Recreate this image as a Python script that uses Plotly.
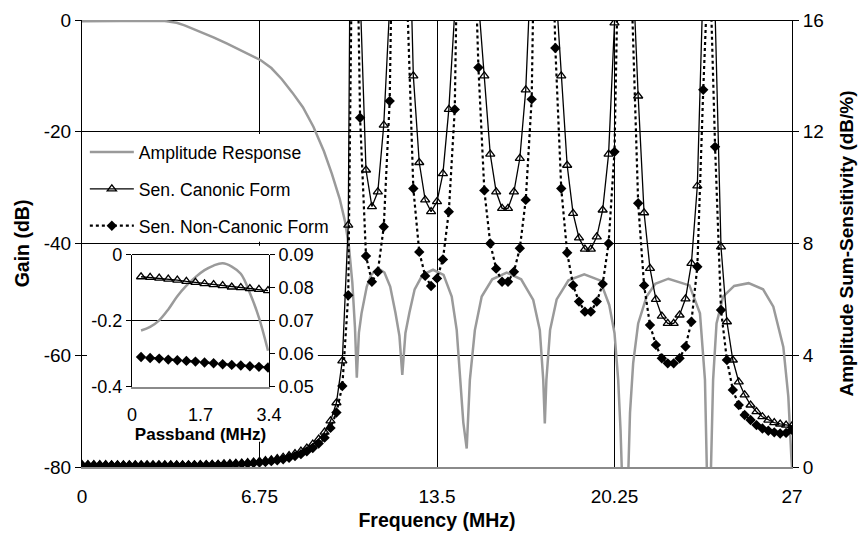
import plotly.graph_objects as go

# Sampling grid of the sensitivity analysis (MHz)
freq_mhz = [
    0.0, 0.225, 0.45, 0.675, 0.9, 1.125, 1.35, 1.575, 1.8, 2.025,
    2.25, 2.475, 2.7, 2.925, 3.15, 3.375, 3.6, 3.825, 4.05, 4.275,
    4.5, 4.725, 4.95, 5.175, 5.4, 5.625, 5.85, 6.075, 6.3, 6.525,
    6.75, 6.975, 7.2, 7.425, 7.65, 7.875, 8.1, 8.325, 8.55, 8.775,
    9.0, 9.225, 9.45, 9.675, 9.9, 10.125, 10.35, 10.575, 10.8, 11.025,
    11.25, 11.475, 11.7, 11.925, 12.15, 12.375, 12.6, 12.825, 13.05, 13.275,
    13.5, 13.725, 13.95, 14.175, 14.4, 14.625, 14.85, 15.075, 15.3, 15.525,
    15.75, 15.975, 16.2, 16.425, 16.65, 16.875, 17.1, 17.325, 17.55, 17.775,
    18.0, 18.225, 18.45, 18.675, 18.9, 19.125, 19.35, 19.575, 19.8, 20.025,
    20.25, 20.475, 20.7, 20.925, 21.15, 21.375, 21.6, 21.825, 22.05, 22.275,
    22.5, 22.725, 22.95, 23.175, 23.4, 23.625, 23.85, 24.075, 24.3, 24.525,
    24.75, 24.975, 25.2, 25.425, 25.65, 25.875, 26.1, 26.325, 26.55, 26.775,
    27.0,
]

# Amplitude sum-sensitivity (dB/%), canonic form
sens_canonic = [
    0.0836, 0.0834, 0.0832, 0.0830, 0.0827, 0.0824, 0.0820, 0.0817, 0.0813, 0.0810,
    0.0807, 0.0803, 0.0801, 0.0798, 0.0796, 0.0792, 0.079, 0.079, 0.080, 0.082,
    0.085, 0.089, 0.095, 0.10, 0.11, 0.12, 0.13, 0.14, 0.16, 0.18,
    0.20, 0.23, 0.26, 0.30, 0.35, 0.41, 0.48, 0.57, 0.68, 0.82,
    1.0, 1.25, 1.65, 2.3, 3.8, 8.66, 40, 17.0, 10.63, 9.32,
    9.85, 12.24, 16.5, 40, 40, 22.3, 14.0, 10.9, 9.56, 9.14,
    9.5, 10.5, 12.8, 16.3, 40, 40, 40, 16.7, 14.0, 11.2,
    9.85, 9.26, 9.26, 9.85, 11.05, 13.5, 18.5, 40, 40, 40,
    17.4, 14.0, 10.8, 9.08, 8.2, 7.8, 7.8, 8.24, 9.2, 11.2,
    15.9, 40, 40, 18.3, 13.28, 9.1, 7.11, 6.0, 5.4, 5.14,
    5.14, 5.44, 6.02, 7.29, 10.06, 17.5, 40, 16.3, 7.88, 5.2,
    3.83, 3.05, 2.58, 2.22, 1.98, 1.8, 1.68, 1.59, 1.54, 1.5,
    1.47,
]

# Amplitude sum-sensitivity (dB/%), non-canonic form
sens_noncanonic = [
    0.0593, 0.0591, 0.0588, 0.0586, 0.0583, 0.0581, 0.0579, 0.0577, 0.0574, 0.0572,
    0.0569, 0.0567, 0.0565, 0.0563, 0.0561, 0.0559, 0.056, 0.057, 0.058, 0.060,
    0.062, 0.065, 0.07, 0.075, 0.08, 0.09, 0.10, 0.11, 0.12, 0.14,
    0.16, 0.18, 0.21, 0.24, 0.28, 0.33, 0.39, 0.46, 0.56, 0.68,
    0.84, 1.05, 1.4, 1.95, 2.9, 6.15, 25.9, 12.5, 7.55, 6.63,
    6.99, 8.6, 13.1, 40, 40, 16.5, 9.97, 7.7, 6.84, 6.48,
    6.75, 7.43, 9.14, 12.8, 22.2, 40, 21.2, 14.3, 9.9, 8.0,
    7.1, 6.63, 6.63, 6.99, 7.83, 9.56, 13.16, 40, 40, 23.5,
    15.0, 9.97, 7.67, 6.51, 5.92, 5.56, 5.56, 5.92, 6.55, 8.0,
    11.28, 22.5, 40, 16.3, 9.44, 6.5, 5.08, 4.37, 3.89, 3.71,
    3.71, 3.89, 4.31, 5.2, 7.17, 13.5, 18.9, 11.46, 5.62, 3.83,
    2.76, 2.22, 1.86, 1.68, 1.5, 1.38, 1.3, 1.24, 1.2, 1.22,
    1.33,
]

# Passband gain (dB) on the first 16 grid points
passband_gain = [
    -0.24, -0.229, -0.218, -0.198, -0.165, -0.125, -0.093, -0.067,
    -0.046, -0.032, -0.025, -0.035, -0.057, -0.115, -0.19, -0.29,
]

# Transition band and stopband of the amplitude response
stop_freq = [
    3.6, 3.9, 4.2, 4.5, 5.0, 5.5, 6.0, 6.4, 6.8, 7.2, 7.6, 8.0, 8.4, 8.8,
    9.2, 9.5, 9.8, 10.0, 10.15, 10.28, 10.38, 10.45,
    10.53, 10.63, 10.83, 11.0, 11.25, 11.5, 11.72, 11.92, 12.07, 12.18,
    12.3, 12.45, 12.65, 12.95, 13.35, 13.75, 14.06, 14.25, 14.37, 14.5, 14.63,
    14.75, 14.94, 15.2, 15.6, 16.15, 16.7, 17.16, 17.41, 17.54, 17.6,
    17.66, 17.8, 18.05, 18.5, 19.1, 19.7, 20.05, 20.25, 20.39, 20.48, 20.57, 20.66,
    20.75, 20.84, 20.96, 21.15, 21.47, 21.8, 22.3, 22.8, 23.1, 23.5, 23.69, 23.76, 23.84,
    23.92, 24.0, 24.13, 24.38, 24.8, 25.35, 25.9, 26.29, 26.67, 26.86, 26.98, 27.0,
]
stop_gain = [
    -0.5, -0.95, -1.5, -2.1, -3.1, -4.2, -5.4, -6.3, -7.2, -8.6, -10.6, -13.0, -15.6, -19.1,
    -23.5, -27.5, -32.0, -36.0, -40.5, -47.0, -55.0, -64.0,
    -56.0, -52.5, -47.7, -45.6, -44.4, -45.2, -47.7, -52.4, -56.5, -63.5,
    -56.0, -52.4, -48.2, -45.6, -44.7, -45.6, -49.5, -55.5, -64.4, -72.0, -76.7,
    -64.4, -55.5, -49.5, -46.4, -45.2, -46.4, -50.1, -55.5, -64.4, -72.2,
    -64.4, -55.5, -50.0, -46.6, -45.5, -46.6, -51.0, -56.0, -64.4, -73.4, -85.0, -100.0,
    -85.0, -70.3, -61.4, -54.3, -49.5, -47.2, -46.3, -47.0, -47.5, -52.5, -64.4, -80.0, -100.0,
    -80.0, -64.4, -54.3, -49.5, -47.6, -47.1, -48.2, -51.3, -58.5, -67.4, -78.7, -80.0,
]

amp_freq = freq_mhz[:16] + stop_freq
amp_gain = passband_gain + stop_gain

x_ticks = [0, 6.75, 13.5, 20.25, 27]
x_labels = ["0", "6.75", "13.5", "20.25", "27"]
gain_ticks = [-80, -60, -40, -20, 0]
gain_labels = ["-80", "-60", "-40", "-20", "0"]
sens_ticks = [0, 4, 8, 12, 16]
inset_x_ticks = [0, 1.7, 3.4]
inset_gain_ticks = [-0.4, -0.2, 0]
inset_gain_labels = ["-0.4", "-0.2", "0"]
inset_sens_ticks = [0.05, 0.06, 0.07, 0.08, 0.09]
inset_sens_labels = ["0.05", "0.06", "0.07", "0.08", "0.09"]

GRAY = "#9a9a9a"
FONT = "Liberation Sans, Arial, sans-serif"

fig = go.Figure()

fig.add_trace(go.Scatter(
    x=amp_freq, y=amp_gain, mode="lines", name="Amplitude Response",
    line=dict(color=GRAY, width=2.5), xaxis="x", yaxis="y", legendgroup="g1",
))
fig.add_trace(go.Scatter(
    x=freq_mhz, y=sens_canonic, mode="lines+markers", name="Sen. Canonic Form",
    line=dict(color="black", width=1.3),
    marker=dict(symbol="triangle-up-open", size=8, color="black", line=dict(width=1.3)),
    xaxis="x", yaxis="y2", legendgroup="g2",
))
fig.add_trace(go.Scatter(
    x=freq_mhz, y=sens_noncanonic, mode="lines+markers", name="Sen. Non-Canonic Form",
    line=dict(color="black", width=2.2, dash="dot"),
    marker=dict(symbol="diamond", size=8, color="black"),
    xaxis="x", yaxis="y2", legendgroup="g3",
))

# Passband detail (inset)
pb = slice(1, 16)
fig.add_trace(go.Scatter(
    x=amp_freq[pb], y=amp_gain[pb], mode="lines", showlegend=False,
    line=dict(color=GRAY, width=2.5, shape="spline"), xaxis="x2", yaxis="y3",
))
fig.add_trace(go.Scatter(
    x=freq_mhz[pb], y=sens_canonic[pb], mode="lines+markers", showlegend=False,
    line=dict(color="black", width=1.3),
    marker=dict(symbol="triangle-up-open", size=8, color="black", line=dict(width=1.3)),
    xaxis="x2", yaxis="y4",
))
fig.add_trace(go.Scatter(
    x=freq_mhz[pb], y=sens_noncanonic[pb], mode="lines+markers", showlegend=False,
    line=dict(color="black", width=2.2, dash="dot"),
    marker=dict(symbol="diamond", size=8, color="black"),
    xaxis="x2", yaxis="y4",
))

# White panels behind the legend and the inset (above the grid, below the data)
fig.add_shape(type="rect", xref="x", yref="y", x0=0.12, x1=8.5, y0=-39.7, y1=-20.4,
              fillcolor="white", line=dict(width=0), layer="between")
fig.add_shape(type="rect", xref="x", yref="y", x0=0.19, x1=8.97, y0=-75.5, y1=-40.4,
              fillcolor="white", line=dict(width=0), layer="between")

fig.update_layout(
    width=861, height=533,
    margin=dict(l=82, r=69, t=20, b=66),
    paper_bgcolor="white", plot_bgcolor="white",
    font=dict(family=FONT, size=18, color="black"),
    showlegend=True,
    legend=dict(
        x=0.004, y=0.745, xanchor="left", yanchor="top",
        bgcolor="rgba(0,0,0,0)", font=dict(size=17.6),
        traceorder="grouped", tracegroupgap=11, itemwidth=44,
    ),
    xaxis=dict(
        domain=[0, 1], range=[0, 27], tickvals=x_ticks, ticktext=x_labels,
        showgrid=True, gridcolor="black", gridwidth=1,
        showline=True, linecolor="#8a8a8a", linewidth=1.5,
        ticks="", zeroline=False, ticklabelstandoff=11, automargin=False,
        tickfont=dict(size=19),
        title=dict(text="<b>Frequency (MHz)</b>", font=dict(size=19.5), standoff=8),
    ),
    yaxis=dict(
        range=[-80, 0], tickvals=gain_ticks, ticktext=gain_labels,
        showgrid=True, gridcolor="black", gridwidth=1,
        zeroline=True, zerolinecolor="black", zerolinewidth=1,
        showline=True, linecolor="black", linewidth=1,
        ticks="outside", ticklen=6, tickcolor="black", automargin=False,
        tickfont=dict(size=19),
        title=dict(text="<b>Gain (dB)</b>", font=dict(size=19.5), standoff=8),
    ),
    yaxis2=dict(
        overlaying="y", side="right", range=[0, 16], tickvals=sens_ticks,
        showgrid=False, zeroline=False,
        showline=True, linecolor="black", linewidth=1,
        ticks="outside", ticklen=6, tickcolor="black", automargin=False,
        tickfont=dict(size=19),
        title=dict(text="<b>Amplitude Sum-Sensitivity (dB/%)</b>", font=dict(size=19), standoff=16),
    ),
    xaxis2=dict(
        domain=[0.0704, 0.2634], anchor="y3", range=[0, 3.4],
        tickvals=inset_x_ticks, ticktext=["0", "1.7", "3.4"],
        showgrid=False, zeroline=False, automargin=False,
        showline=True, linecolor="#8a8a8a", linewidth=1.5,
        ticks="", ticklabelstandoff=11, tickfont=dict(size=18),
        title=dict(text="<b>Passband (MHz)</b>", font=dict(size=17), standoff=0),
    ),
    yaxis3=dict(
        domain=[0.179, 0.4743], anchor="x2", range=[-0.4, 0],
        tickvals=inset_gain_ticks, ticktext=inset_gain_labels,
        showgrid=True, gridcolor="black", gridwidth=1,
        zeroline=True, zerolinecolor="black", zerolinewidth=1,
        showline=True, linecolor="black", linewidth=1, automargin=False,
        ticks="outside", ticklen=5, tickcolor="black", tickfont=dict(size=18),
    ),
    yaxis4=dict(
        overlaying="y3", anchor="x2", side="right", range=[0.05, 0.09],
        tickvals=inset_sens_ticks, ticktext=inset_sens_labels,
        showgrid=False, zeroline=False, automargin=False,
        showline=True, linecolor="black", linewidth=1,
        ticks="outside", ticklen=5, tickcolor="black", tickfont=dict(size=18),
    ),
)

fig.write_html("out.html")
